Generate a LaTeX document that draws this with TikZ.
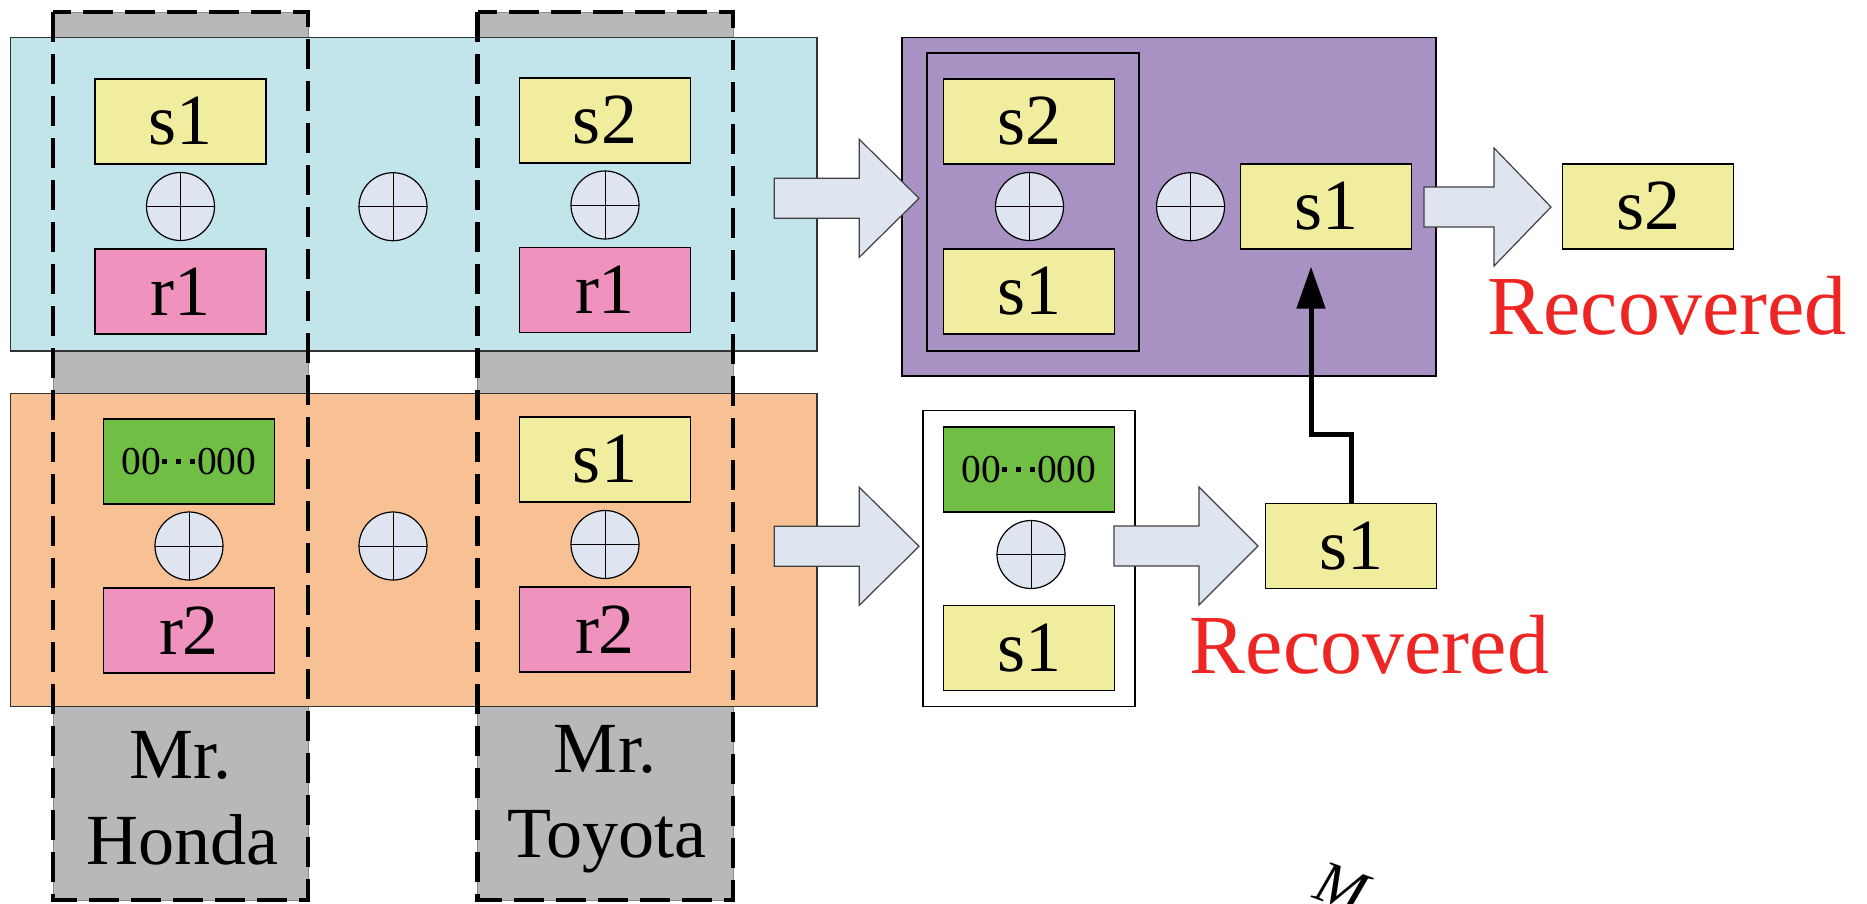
\documentclass[tikz,border=0pt]{standalone}
\usepackage{fontspec}
\setmainfont{Liberation Serif}
\usetikzlibrary{arrows.meta,calc}
\definecolor{cyanbg}{RGB}{193,229,234}
\definecolor{orangebg}{RGB}{248,193,148}
\definecolor{graybg}{RGB}{183,184,186}
\definecolor{purplebg}{RGB}{168,146,196}
\definecolor{yel}{RGB}{240,238,158}
\definecolor{pnk}{RGB}{240,146,190}
\definecolor{grn}{RGB}{112,190,68}
\definecolor{circ}{RGB}{222,229,240}
\definecolor{redtx}{RGB}{237,38,36}
\newcommand\zdot{\rule[0.275em]{0.125em}{0.125em}}
\newcommand\zeros{00\kern0.03em\zdot\kern0.225em\zdot\kern0.225em\zdot\kern0.06em000}
\tikzset{
  cell/.style={draw=black, line width=1.3pt, minimum width=171pt, minimum height=85pt, inner sep=0pt, font=\fontsize{72}{86}\selectfont},
  ycell/.style={cell, fill=yel},
  pcell/.style={cell, fill=pnk},
  gcell/.style={cell, fill=grn, font=\fontsize{39.5}{48}\selectfont},
  xorsym/.style={circle, draw=black, line width=1.2pt, fill=circ, minimum size=68pt, inner sep=0pt,
    path picture={\draw[line width=1pt] (path picture bounding box.north) -- (path picture bounding box.south)
      (path picture bounding box.west) -- (path picture bounding box.east);}},
  panel/.style={draw=black!80, line width=1.2pt, inner sep=0pt},
  graycol/.style={draw=black!45, line width=1pt, fill=graybg, inner sep=0pt, minimum width=255pt, minimum height=888pt},
  blk/.style={draw=black!75, line width=1.2pt, fill=circ, line join=miter},
  dashcol/.style={draw=black, line width=4.5pt, dash pattern=on 30pt off 12pt},
  redtxt/.style={text=redtx, font=\fontsize{84}{100}\selectfont, anchor=base, inner sep=0pt},
  coltxt/.style={font=\fontsize{72}{86}\selectfont, anchor=base, inner sep=0pt},
}
\newcommand\blockarrow[4]{%
  \draw[blk] (#1,#4-20) -- (#2,#4-20) -- (#2,#4-59) -- (#3,#4) -- (#2,#4+59) -- (#2,#4+20) -- (#1,#4+20) -- cycle;}
\begin{document}
\begin{tikzpicture}[x=1pt,y=-1pt]
\useasboundingbox (0,0) rectangle (1867,903);
% gray columns
\node[graycol] (honda) at (180.5,456) {};
\node[graycol, minimum width=255.5pt] (toyota) at (605.25,456) {};
% panels
\node[panel, fill=cyanbg, minimum width=806.4pt, minimum height=313.7pt] (cyanp) at (413.8,194.15) {};
\node[panel, fill=orangebg, minimum width=806.4pt, minimum height=313.4pt] (orangep) at (413.8,550) {};
\node[panel, draw=black, fill=purplebg, minimum width=534pt, minimum height=338.7pt] (purp) at (1169,206.65) {};
\node[panel, draw=black, minimum width=212pt, minimum height=298pt] (inner) at (1033,202) {};
\node[panel, draw=black, fill=white, minimum width=212pt, minimum height=296pt] (whitep) at (1029,558.7) {};
% top row cells
\node[ycell] (as1) at (180.5,121.5) {s1};
\node[xorsym] (ax) at (180.5,206.5) {};
\node[pcell] (ar1) at (180.5,291.5) {r1};
\node[xorsym] (mx1) at (393,206.7) {};
\node[ycell] (bs2) at (605,120.5) {s2};
\node[xorsym] (bx) at (605,205) {};
\node[pcell] (br1) at (605,290) {r1};
% bottom row cells
\node[gcell] (cg) at (189,461.5) {\zeros};
\node[xorsym] (cx) at (189,546) {};
\node[pcell] (cr2) at (189,630.5) {r2};
\node[xorsym] (mx2) at (393,546) {};
\node[ycell] (ds1) at (605,459.5) {s1};
\node[xorsym] (dx) at (605,544.5) {};
\node[pcell] (dr2) at (605,629.5) {r2};
% purple block
\node[ycell] (ps2) at (1029,121.5) {s2};
\node[xorsym] (px) at (1029.5,206.5) {};
\node[ycell] (ps1) at (1029,291.5) {s1};
\node[xorsym] (px2) at (1190.5,206.7) {};
\node[ycell] (p1) at (1326,206.5) {s1};
\node[ycell] (outs2) at (1648,206.5) {s2};
% white block
\node[gcell] (wg) at (1029,469.5) {\zeros};
\node[xorsym] (wx) at (1031,554.5) {};
\node[ycell] (ws1) at (1029,648) {s1};
\node[ycell] (s1c) at (1351,546) {s1};
% block arrows
\blockarrow{774.3}{859.3}{919}{198.3}
\blockarrow{774.3}{859.3}{919}{546.3}
\blockarrow{1114}{1199}{1258}{546}
\blockarrow{1424}{1494}{1551}{207}
% black feedback arrow
\draw[line width=5pt, -{Triangle[width=28pt,length=42pt]}]
  (s1c.north) -- ++(0,-68.3) -| ($(p1.south)+(-15,17)$);
% labels
\node[redtxt] (rec1) at (1667,334) {Recovered};
\node[redtxt] (rec2) at (1369.5,673) {Recovered};
\node[coltxt] (hmr) at (180.5,778) {Mr.};
\node[coltxt] (hname) at (182,864) {Honda};
\node[coltxt] (tmr) at (605,772) {Mr.};
\node[coltxt] (tname) at (607,857) {Toyota};
\node[anchor=base west, inner sep=0pt, rotate=-20, font=\fontsize{60}{72}\selectfont\itshape] (mlbl) at (1311,897) {M};
% dashed outlines
\draw[dashcol] (53,12) rectangle (308,900);
\draw[dashcol] (477.5,12) rectangle (733,900);
\end{tikzpicture}
\end{document}
